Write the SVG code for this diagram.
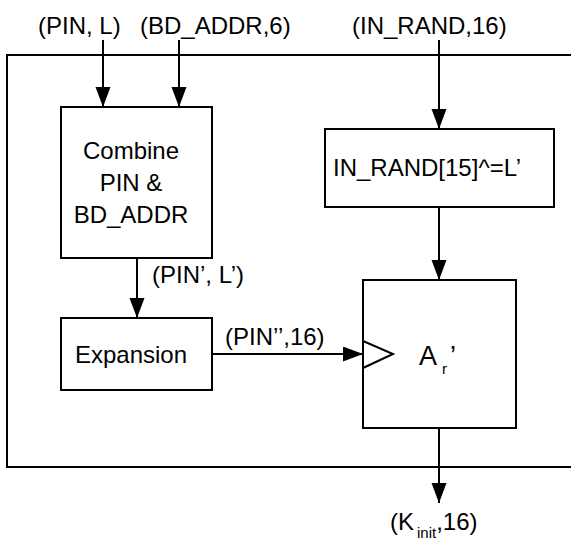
<svg xmlns="http://www.w3.org/2000/svg" width="571" height="542" viewBox="0 0 571 542">
<style>
text{font-family:"Liberation Sans",Arial,Helvetica,sans-serif;font-size:24px;fill:#000}
.box{fill:#fff;stroke:#000;stroke-width:2}
.wire{fill:none;stroke:#000;stroke-width:2}
.mid{text-anchor:middle}
</style>
<defs>
<marker id="ah" markerUnits="userSpaceOnUse" markerWidth="20" markerHeight="16" refX="20" refY="7.5" orient="auto">
<path d="M0,0 L20,7.5 L0,15 z" fill="#000"/>
</marker>
</defs>
<rect id="outer" x="7" y="55" width="620" height="412" fill="none" stroke="#000" stroke-width="2"/>
<g id="labels-in">
<text x="38" y="34">(PIN, L)</text>
<text x="140" y="34">(BD_ADDR,6)</text>
<text x="352" y="34">(IN_RAND,16)</text>
</g>
<g id="combine">
<rect class="box" x="61" y="107" width="151" height="151"/>
<text class="mid" x="131" y="159">Combine</text>
<text class="mid" x="131" y="191">PIN &amp;</text>
<text class="mid" x="131" y="223">BD_ADDR</text>
</g>
<g id="expansion">
<rect class="box" x="61" y="318" width="151" height="72"/>
<text class="mid" x="131" y="363">Expansion</text>
</g>
<g id="inrand">
<rect class="box" x="325" y="129" width="229" height="78"/>
<text x="333" y="176">IN_RAND[15]^=L’</text>
</g>
<g id="ar">
<rect class="box" x="363" y="280" width="153" height="148"/>
<path class="wire" d="M363,341 L393,354 L363,368"/>
<text x="419" y="365" style="font-size:27px">A<tspan x="442" y="374" style="font-size:15px">r</tspan><tspan x="450" y="365" style="font-size:27px">’</tspan></text>
</g>
<g id="connectors">
<line class="wire" x1="103" y1="40" x2="103" y2="107" marker-end="url(#ah)"/>
<line class="wire" x1="179" y1="40" x2="179" y2="107" marker-end="url(#ah)"/>
<line class="wire" x1="439" y1="40" x2="439" y2="129" marker-end="url(#ah)"/>
<line class="wire" x1="439" y1="207" x2="439" y2="280" marker-end="url(#ah)"/>
<line class="wire" x1="137" y1="258" x2="137" y2="318" marker-end="url(#ah)"/>
<line class="wire" x1="212" y1="354" x2="363" y2="354" marker-end="url(#ah)"/>
<line class="wire" x1="439" y1="428" x2="439" y2="503" marker-end="url(#ah)"/>
<text x="152" y="283">(PIN’, L’)</text>
<text x="225" y="345">(PIN’’,16)</text>
<text x="390" y="530">(K<tspan dx="3" y="538" style="font-size:15px">init</tspan><tspan y="530">,16)</tspan></text>
</g>
</svg>
